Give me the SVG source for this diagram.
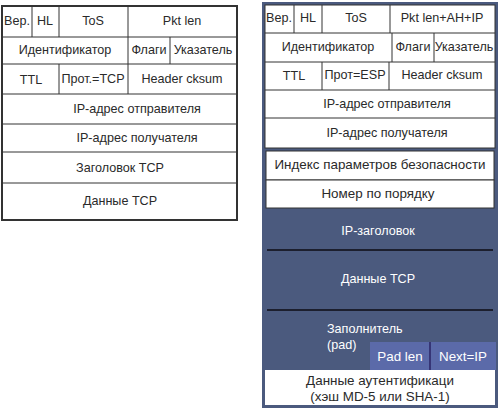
<svg xmlns="http://www.w3.org/2000/svg" width="500" height="408" viewBox="0 0 500 408">
<style>
text{font-family:"Liberation Sans",Arial,sans-serif;font-size:12.6px;fill:#2a2a2a;text-anchor:middle}
.b{font-size:13.4px}
.w{fill:#fff}
.l{text-anchor:start}
.cell{fill:#fff;stroke:#333;stroke-width:1}
.ln{stroke:#333;stroke-width:1}
.dk{stroke:#1c1f2e;stroke-width:2}
</style>
<rect width="500" height="408" fill="#fff"/>
<g id="left-packet">
<rect x="2" y="6" width="235" height="214" fill="#fff" stroke="#333" stroke-width="2"/>
<g id="l-rows">
<line class="ln" x1="2" y1="37" x2="237" y2="37"/>
<line class="ln" x1="2" y1="64" x2="237" y2="64"/>
<line class="ln" x1="2" y1="94" x2="237" y2="94"/>
<line class="ln" x1="2" y1="124" x2="237" y2="124"/>
<line class="ln" x1="2" y1="152" x2="237" y2="152"/>
<line class="ln" x1="2" y1="183" x2="237" y2="183"/>
<line class="ln" x1="32" y1="6" x2="32" y2="37"/>
<line class="ln" x1="59" y1="6" x2="59" y2="37"/>
<line class="ln" x1="128" y1="6" x2="128" y2="37"/>
<line class="ln" x1="128" y1="37" x2="128" y2="64"/>
<line class="ln" x1="170" y1="37" x2="170" y2="64"/>
<line class="ln" x1="59" y1="64" x2="59" y2="94"/>
<line class="ln" x1="128" y1="64" x2="128" y2="94"/>
</g>
<g id="l-ver"><text x="17" y="25">Вер.</text></g>
<g id="l-hl"><text x="45" y="25">HL</text></g>
<g id="l-tos"><text x="93" y="25">ToS</text></g>
<g id="l-len"><text x="182" y="25">Pkt len</text></g>
<g id="l-id"><text x="65" y="54">Идентификатор</text></g>
<g id="l-flags"><text x="149" y="54">Флаги</text></g>
<g id="l-ptr"><text x="203" y="54">Указатель</text></g>
<g id="l-ttl"><text x="31" y="84">TTL</text></g>
<g id="l-prot"><text x="93" y="83">Прот.=TCP</text></g>
<g id="l-cks"><text x="182" y="83">Header cksum</text></g>
<g id="l-src"><text x="137" y="113">IP-адрес отправителя</text></g>
<g id="l-dst"><text x="137" y="142">IP-адрес получателя</text></g>
<g id="l-tcph"><text x="120" y="172">Заголовок TCP</text></g>
<g id="l-tcpd"><text x="120" y="205">Данные TCP</text></g>
</g>
<g id="right-packet">
<rect x="263" y="3" width="234" height="404" fill="#4b5a7e" stroke="#4b5a7e" stroke-width="2"/>
<rect x="265" y="5" width="230" height="143" class="cell"/>
<g id="r-rows">
<line class="ln" x1="265" y1="33" x2="495" y2="33"/>
<line class="ln" x1="265" y1="62" x2="495" y2="62"/>
<line class="ln" x1="265" y1="90" x2="495" y2="90"/>
<line class="ln" x1="265" y1="118" x2="495" y2="118"/>
<line class="ln" x1="294" y1="5" x2="294" y2="33"/>
<line class="ln" x1="322" y1="5" x2="322" y2="33"/>
<line class="ln" x1="390" y1="5" x2="390" y2="33"/>
<line class="ln" x1="392" y1="33" x2="392" y2="62"/>
<line class="ln" x1="434" y1="33" x2="434" y2="62"/>
<line class="ln" x1="322" y1="62" x2="322" y2="90"/>
<line class="ln" x1="389" y1="62" x2="389" y2="90"/>
</g>
<g id="r-ver"><text x="279" y="22">Вер.</text></g>
<g id="r-hl"><text x="308" y="22">HL</text></g>
<g id="r-tos"><text x="356" y="22">ToS</text></g>
<g id="r-len"><text x="442" y="22">Pkt len+AH+IP</text></g>
<g id="r-id"><text x="328" y="51">Идентификатор</text></g>
<g id="r-flags"><text x="413" y="51">Флаги</text></g>
<g id="r-ptr"><text x="464" y="51">Указатель</text></g>
<g id="r-ttl"><text x="294" y="80">TTL</text></g>
<g id="r-prot"><text x="355" y="79">Прот=ESP</text></g>
<g id="r-cks"><text x="442" y="79">Header cksum</text></g>
<g id="r-src"><text x="387" y="108">IP-адрес отправителя</text></g>
<g id="r-dst"><text x="387" y="137">IP-адрес получателя</text></g>
<g id="r-spi"><rect x="266" y="151" width="228" height="29" class="cell"/><text class="b" x="380" y="169">Индекс параметров безопасности</text></g>
<g id="r-seq"><rect x="266" y="180" width="228" height="28" class="cell"/><text class="b" x="378" y="198">Номер по порядку</text></g>
<g id="r-iph"><text class="w" x="378" y="235">IP-заголовок</text></g>
<line class="dk" x1="267" y1="250" x2="493" y2="250"/>
<g id="r-tcpd"><text class="w" x="378" y="283">Данные TCP</text></g>
<line class="dk" x1="267" y1="310" x2="493" y2="310"/>
<g id="r-pad"><text class="w l" x="327" y="333">Заполнитель</text><text class="w l" x="327" y="349">(pad)</text></g>
<g id="r-padlen"><rect x="370" y="342" width="126" height="28" fill="#5b6aa9"/><line x1="430" y1="342" x2="430" y2="370" stroke="#2a2566" stroke-width="1.5"/><text class="w b" x="400" y="361">Pad len</text><text class="w b" x="463" y="361">Next=IP</text></g>
<g id="r-auth"><rect x="265" y="370" width="230" height="35" fill="#fff"/><text class="b" x="380" y="385">Данные аутентификаци</text><text class="b" x="380" y="401">(хэш MD-5 или SHA-1)</text></g>
</g>
</svg>
